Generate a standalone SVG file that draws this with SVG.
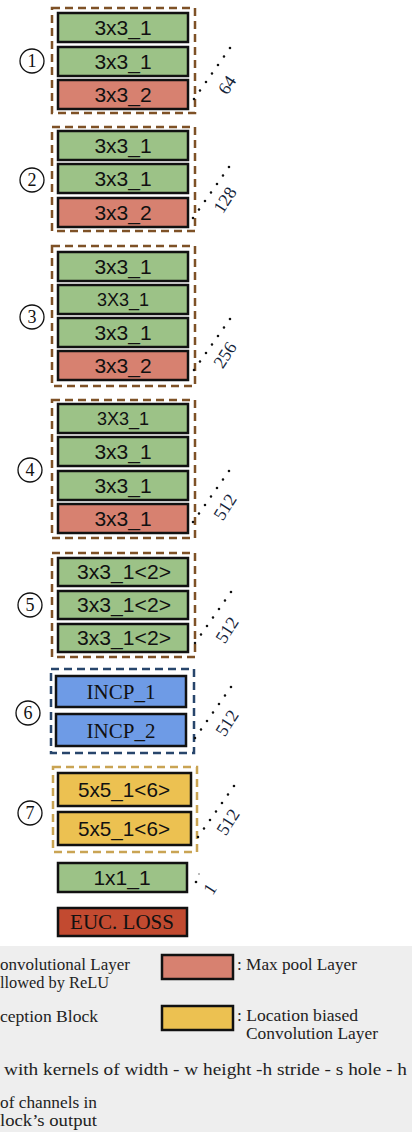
<svg xmlns="http://www.w3.org/2000/svg" width="412" height="1132" viewBox="0 0 412 1132">
<style>
.g{fill:#9cc287;stroke:#111;stroke-width:2.5}
.r{fill:#d78170;stroke:#111;stroke-width:2.5}
.b{fill:#6e9be6;stroke:#111;stroke-width:2.5}
.y{fill:#ecc151;stroke:#111;stroke-width:2.5}
.e{fill:#c24a30;stroke:#111;stroke-width:2.5}
.db{fill:none;stroke:#7e5126;stroke-width:2.5;stroke-dasharray:8 5}
.dn{fill:none;stroke:#27456b;stroke-width:2.5;stroke-dasharray:8 5}
.dy{fill:none;stroke:#c9a453;stroke-width:2.5;stroke-dasharray:8 5}
.t{font-family:"Liberation Sans",Arial,sans-serif;font-size:21px;fill:#111;text-anchor:middle}
.ts{font-family:"Liberation Serif","Times New Roman",serif;font-size:21px;fill:#111;text-anchor:middle}
.c{fill:#fff;stroke:#111;stroke-width:1.3}
.cn{font-family:"Liberation Serif","Times New Roman",serif;font-size:18px;fill:#111;text-anchor:middle}
.dot{stroke:#111;stroke-width:2.6;stroke-linecap:round;stroke-dasharray:0 10.4;fill:none}
.n{font-family:"Liberation Serif","Times New Roman",serif;font-size:18px;fill:#14243a;text-anchor:middle;dominant-baseline:central}
.lg{font-family:"Liberation Serif","Times New Roman",serif;font-size:16px;fill:#222}
</style>

<g id="block1">
<rect class="db" x="52" y="8" width="143" height="105"/>
<circle class="c" cx="32" cy="61" r="12"/><text class="cn" x="32" y="67">1</text>
<rect class="g" x="58" y="13" width="130" height="29"/><text class="t" x="123" y="35">3x3_1</text>
<rect class="g" x="58" y="47" width="130" height="29"/><text class="t" x="123" y="69">3x3_1</text>
<rect class="r" x="58" y="80" width="130" height="29"/><text class="t" x="123" y="102">3x3_2</text>
</g>

<g id="block2">
<rect class="db" x="52" y="127" width="143" height="104"/>
<circle class="c" cx="32" cy="180" r="12"/><text class="cn" x="32" y="186">2</text>
<rect class="g" x="58" y="131" width="130" height="29"/><text class="t" x="123" y="153">3x3_1</text>
<rect class="g" x="58" y="164" width="130" height="29"/><text class="t" x="123" y="186">3x3_1</text>
<rect class="r" x="58" y="198" width="130" height="29"/><text class="t" x="123" y="220">3x3_2</text>
</g>

<g id="block3">
<rect class="db" x="52" y="246" width="143" height="140"/>
<circle class="c" cx="32" cy="317" r="12"/><text class="cn" x="32" y="323">3</text>
<rect class="g" x="58" y="252" width="130" height="29"/><text class="t" x="123" y="274">3x3_1</text>
<rect class="g" x="58" y="285" width="130" height="29"/><text class="t" x="123" y="306" style="font-size:18px">3X3_1</text>
<rect class="g" x="58" y="318" width="130" height="29"/><text class="t" x="123" y="340">3x3_1</text>
<rect class="r" x="58" y="351" width="130" height="29"/><text class="t" x="123" y="373">3x3_2</text>
</g>

<g id="block4">
<rect class="db" x="52" y="400" width="143" height="138"/>
<circle class="c" cx="30" cy="470" r="12"/><text class="cn" x="30" y="476">4</text>
<rect class="g" x="58" y="404" width="130" height="29"/><text class="t" x="123" y="425" style="font-size:18px">3X3_1</text>
<rect class="g" x="58" y="437" width="130" height="29"/><text class="t" x="123" y="459">3x3_1</text>
<rect class="g" x="58" y="471" width="130" height="29"/><text class="t" x="123" y="493">3x3_1</text>
<rect class="r" x="58" y="504" width="130" height="29"/><text class="t" x="123" y="526">3x3_1</text>
</g>

<g id="block5">
<rect class="db" x="52" y="553" width="143" height="104"/>
<circle class="c" cx="30" cy="605" r="12"/><text class="cn" x="30" y="611">5</text>
<rect class="g" x="58" y="558" width="130" height="28"/><text class="t" x="124" y="579" textLength="94" lengthAdjust="spacingAndGlyphs">3x3_1&lt;2&gt;</text>
<rect class="g" x="58" y="591" width="130" height="28"/><text class="t" x="124" y="612" textLength="94" lengthAdjust="spacingAndGlyphs">3x3_1&lt;2&gt;</text>
<rect class="g" x="58" y="624" width="130" height="28"/><text class="t" x="124" y="645" textLength="94" lengthAdjust="spacingAndGlyphs">3x3_1&lt;2&gt;</text>
</g>

<g id="block6">
<rect class="dn" x="51" y="669" width="143" height="84"/>
<circle class="c" cx="28" cy="713" r="12"/><text class="cn" x="28" y="719">6</text>
<rect class="b" x="56" y="676" width="130" height="31"/><text class="ts" x="121" y="699">INCP_1</text>
<rect class="b" x="56" y="714" width="130" height="32"/><text class="ts" x="121" y="738">INCP_2</text>
</g>

<g id="block7">
<rect class="dy" x="53" y="767" width="144" height="85"/>
<circle class="c" cx="30" cy="813" r="12"/><text class="cn" x="30" y="819">7</text>
<rect class="y" x="58" y="773" width="133" height="33"/><text class="t" x="124" y="797" textLength="92" lengthAdjust="spacingAndGlyphs">5x5_1&lt;6&gt;</text>
<rect class="y" x="58" y="812" width="133" height="33"/><text class="t" x="124" y="836" textLength="92" lengthAdjust="spacingAndGlyphs">5x5_1&lt;6&gt;</text>
</g>

<g id="conv1x1">
<rect class="g" x="58" y="863" width="129" height="29"/><text class="t" x="122" y="885">1x1_1</text>
</g>

<g id="loss">
<rect class="e" x="58" y="908" width="129" height="28"/><text class="ts" x="122" y="929">EUC. LOSS</text>
</g>

<g id="connectors">
<line class="dot" x1="194" y1="99" x2="230" y2="48"/>
<line class="dot" x1="193" y1="218" x2="229" y2="167"/>
<line class="dot" x1="194" y1="370" x2="230" y2="319"/>
<line class="dot" x1="193" y1="522" x2="229" y2="471"/>
<line class="dot" x1="195" y1="643" x2="231" y2="592"/>
<line class="dot" x1="195" y1="738" x2="231" y2="687"/>
<line class="dot" x1="198" y1="837" x2="234" y2="786"/>
<circle cx="199" cy="874" r="0.8" fill="#666"/>
<circle cx="196" cy="882" r="1.3" fill="#111"/>
</g>

<g id="channel-labels">
<text class="n" transform="rotate(-57 227 85)" x="227" y="85">64</text>
<text class="n" transform="rotate(-57 225 200)" x="225" y="200">128</text>
<text class="n" transform="rotate(-57 225 355)" x="225" y="355">256</text>
<text class="n" transform="rotate(-57 225 507)" x="225" y="507">512</text>
<text class="n" transform="rotate(-57 227 630)" x="227" y="630">512</text>
<text class="n" transform="rotate(-57 227 723)" x="227" y="723">512</text>
<text class="n" transform="rotate(-57 228 822)" x="228" y="822">512</text>
<text class="n" transform="rotate(-57 210 889)" x="210" y="889">1</text>
</g>

<g id="legend">
<rect x="0" y="946" width="412" height="186" fill="#eeeeee"/>
<text class="lg"><tspan x="0" y="970" textLength="130" lengthAdjust="spacingAndGlyphs">onvolutional Layer</tspan><tspan x="0" y="988" textLength="109" lengthAdjust="spacingAndGlyphs">llowed by ReLU</tspan></text>
<text class="lg" x="0" y="1022" textLength="98" lengthAdjust="spacingAndGlyphs">ception Block</text>
<rect class="r" x="162" y="955" width="71" height="24"/>
<text class="lg" x="237" y="970" textLength="120" lengthAdjust="spacingAndGlyphs">: Max pool Layer</text>
<rect class="y" x="162" y="1006" width="71" height="24"/>
<text class="lg"><tspan x="237" y="1021" textLength="121" lengthAdjust="spacingAndGlyphs">: Location biased</tspan><tspan x="246" y="1039" textLength="132" lengthAdjust="spacingAndGlyphs">Convolution Layer</tspan></text>
<text class="lg" x="4" y="1075" textLength="403" lengthAdjust="spacingAndGlyphs">with kernels of  width - w  height -h  stride - s  hole - h</text>
<text class="lg"><tspan x="0" y="1108" textLength="97" lengthAdjust="spacingAndGlyphs">of channels in</tspan><tspan x="0" y="1126" textLength="97" lengthAdjust="spacingAndGlyphs">lock’s output</tspan></text>
</g>
</svg>
